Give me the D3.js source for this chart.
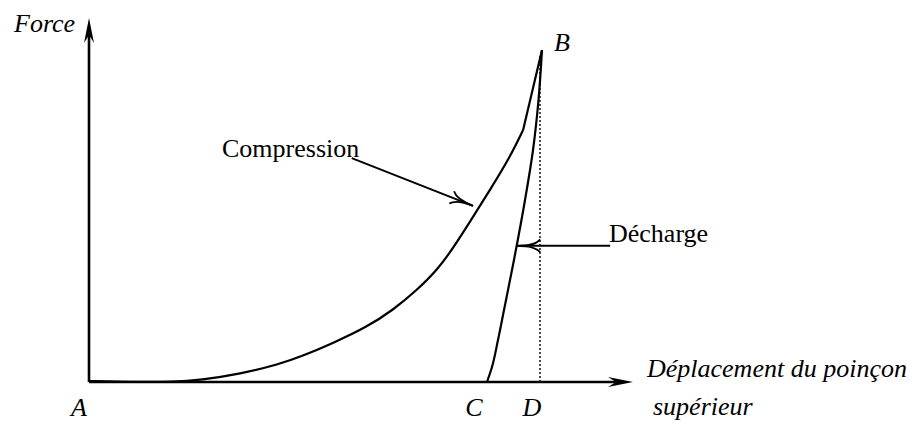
<!DOCTYPE html>
<html>
<head>
<meta charset="utf-8">
<script src="https://cdn.jsdelivr.net/npm/d3@7"></script>
<style>
  html, body { margin: 0; padding: 0; background: #fff; }
  svg { display: block; }
  text { font-family: "Liberation Serif", "Times New Roman", serif; fill: #000; }
</style>
</head>
<body>
<svg id="chart" width="923" height="432"></svg>
<script>
// ---- Data (arbitrary units: displacement 0..100, force 0..100) ----
const compressionX = [0, 7.5, 15.8, 20.4, 27.8, 35.1, 38.8, 44.9, 51.1, 55.9, 60.3, 64.0, 66.7, 70.0, 73.7, 77.4, 79.8];
const compressionY = [0.27, 0, 0, 0.55, 2.2, 4.95, 6.87, 10.71, 15.11, 19.78, 25.27, 30.77, 36.26, 43.96, 52.75, 61.81, 69.23];
const peakB = [83.27, 91.21];
const dechargeX = [73.16, 74.08, 75.18, 76.29, 78.12, 80.15, 81.62, 82.63, 83.27];
const dechargeY = [0, 4.12, 11.54, 19.78, 33.52, 50.0, 63.74, 77.47, 91.21];
const pointD = 82.9;
const pointC = 73.16;
const pointA = 0;
const axisTitles = { y: "Force", x1: "Déplacement du poinçon", x2: "supérieur" };
const pointLabels = ["A", "B", "C", "D"];
const annotationLabels = ["Compression", "Décharge"];
// annotation arrows: start point (data) -> tip (data)
const compressionArrow = [[48.3, 61.5], [70.6, 48.4]];
const dechargeArrow = [[95.8, 37.4], [78.7, 37.4]];

// ---- Layout ----
const svg = d3.select("#chart");
const x = d3.scaleLinear().domain([0, 100]).range([89, 633]);
const y = d3.scaleLinear().domain([0, 100]).range([382, 18]);
const FS = 26;

// Axes
svg.append("line").attr("x1", x(0)).attr("y1", y(0)).attr("x2", x(0)).attr("y2", y(100) + 10)
  .attr("stroke", "#000").attr("stroke-width", 2.6);
svg.append("line").attr("x1", x(0)).attr("y1", y(0)).attr("x2", x(100) - 12).attr("y2", y(0))
  .attr("stroke", "#000").attr("stroke-width", 2.6);

// stealth arrowheads for axes
function stealth(tx, ty, angle, len, half, inset) {
  const c = Math.cos(angle), s = Math.sin(angle);
  const pt = (a, b) => [tx - a * c + b * -s, ty - a * s + b * c];
  const p1 = pt(len, half), p2 = pt(len - inset, 0), p3 = pt(len, -half);
  return `M${tx},${ty}L${p1[0]},${p1[1]}L${p2[0]},${p2[1]}L${p3[0]},${p3[1]}Z`;
}
svg.append("path").attr("d", stealth(x(0), y(100), -Math.PI / 2, 25, 5, 8)).attr("fill", "#000");
svg.append("path").attr("d", stealth(x(100), y(0), 0, 25, 5, 8)).attr("fill", "#000");

// Dotted line at D
svg.append("line").attr("x1", x(pointD)).attr("x2", x(pointD))
  .attr("y1", y(peakB[1]) + 6).attr("y2", y(0))
  .attr("stroke", "#111").attr("stroke-width", 1.5).attr("stroke-dasharray", "2,2");

// Compression curve (smooth part + straight last segment to B)
const comp = compressionX.map((v, i) => [v, compressionY[i]]);
const lineSmooth = d3.line().x(d => x(d[0])).y(d => y(d[1])).curve(d3.curveBasis);
svg.append("path").attr("d", lineSmooth(comp)).attr("fill", "none").attr("stroke", "#000").attr("stroke-width", 2.2);
const lineStraight = d3.line().x(d => x(d[0])).y(d => y(d[1]));
svg.append("path").attr("d", lineStraight([comp[comp.length - 1], peakB]))
  .attr("fill", "none").attr("stroke", "#000").attr("stroke-width", 2.2);

// Décharge curve
const dech = dechargeX.map((v, i) => [v, dechargeY[i]]);
const lineY = d3.line().x(d => x(d[0])).y(d => y(d[1])).curve(d3.curveMonotoneY);
svg.append("path").attr("d", lineY(dech)).attr("fill", "none").attr("stroke", "#000").attr("stroke-width", 2.2);

// annotation arrows (open heads)
function openArrow(pts) {
  const [x0, y0] = [x(pts[0][0]), y(pts[0][1])];
  const [x1, y1] = [x(pts[1][0]), y(pts[1][1])];
  svg.append("line").attr("x1", x0).attr("y1", y0).attr("x2", x1).attr("y2", y1)
    .attr("stroke", "#000").attr("stroke-width", 2);
  const a = Math.atan2(y1 - y0, x1 - x0);
  const len = 23, half = 6.5;
  const c = Math.cos(a), s = Math.sin(a);
  const w1 = [x1 - len * c - half * s, y1 - len * s + half * c];
  const w2 = [x1 - len * c + half * s, y1 - len * s - half * c];
  const mid = [x1 - (len - 5) * c, y1 - (len - 5) * s];
  svg.append("path")
    .attr("d", `M${w1[0]},${w1[1]}Q${mid[0]},${mid[1]} ${x1},${y1}Q${mid[0]},${mid[1]} ${w2[0]},${w2[1]}`)
    .attr("fill", "none").attr("stroke", "#000").attr("stroke-width", 1.8);
}
openArrow(compressionArrow);
openArrow(dechargeArrow);

// Texts
function txt(s, tx, ty, italic, anchor) {
  svg.append("text").attr("x", tx).attr("y", ty).text(s)
    .attr("font-size", FS).attr("font-style", italic ? "italic" : "normal")
    .attr("text-anchor", anchor || "start");
}
txt(axisTitles.y, 14, 32, true);
txt(axisTitles.x1, 647, 377, true);
txt(axisTitles.x2, 653, 415, true);
txt(pointLabels[0], x(pointA) - 10, 416, true, "middle");
txt(pointLabels[1], x(peakB[0]) + 12, 51, true);
txt(pointLabels[2], x(pointC) - 13, 416, true, "middle");
txt(pointLabels[3], x(pointD) - 8, 416, true, "middle");
txt(annotationLabels[0], 222, 157, false);
txt(annotationLabels[1], 609, 242, false);
</script>
</body>
</html>
